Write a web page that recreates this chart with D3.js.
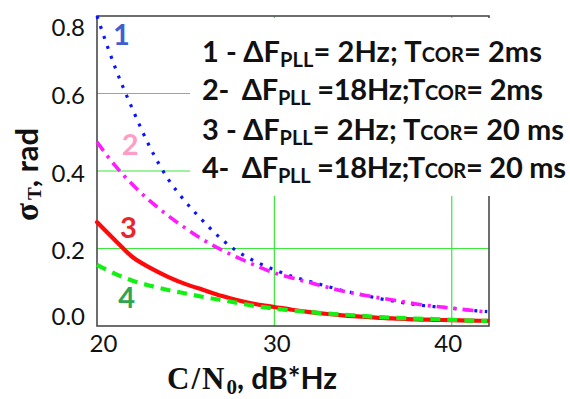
<!DOCTYPE html>
<html>
<head>
<meta charset="utf-8">
<script src="https://cdn.jsdelivr.net/npm/d3@7"></script>
<style>
  html, body { margin: 0; padding: 0; background: #fff; }
  svg { display: block; }
  text { white-space: pre; }
</style>
</head>
<body>
<svg id="chart" width="570" height="399"></svg>
<script>
// Carrier-to-noise density ratio, dB*Hz
const cn0 = [20, 21, 22, 23, 24, 25, 26, 27, 28, 29, 30, 31, 32, 33, 34, 35, 36, 37, 38, 39, 40, 41, 42];

// Tracking error sigma_T, rad, for the four loop configurations
const sigma1 = [0.800, 0.670, 0.560, 0.460, 0.380, 0.320, 0.270, 0.225, 0.190, 0.165, 0.145, 0.128, 0.115, 0.102, 0.090, 0.080, 0.070, 0.062, 0.055, 0.050, 0.046, 0.041, 0.037];
const sigma2 = [0.475, 0.415, 0.365, 0.322, 0.285, 0.252, 0.222, 0.197, 0.175, 0.155, 0.137, 0.124, 0.112, 0.100, 0.089, 0.080, 0.072, 0.065, 0.057, 0.051, 0.046, 0.041, 0.036];
const sigma3 = [0.268, 0.222, 0.178, 0.150, 0.127, 0.108, 0.093, 0.078, 0.066, 0.056, 0.049, 0.042, 0.036, 0.031, 0.027, 0.024, 0.021, 0.019, 0.017, 0.016, 0.015, 0.014, 0.013];
const sigma4 = [0.158, 0.135, 0.117, 0.104, 0.093, 0.084, 0.075, 0.067, 0.059, 0.051, 0.045, 0.040, 0.036, 0.032, 0.029, 0.026, 0.023, 0.021, 0.019, 0.018, 0.016, 0.014, 0.013];

const xTicks = [20, 30, 40];
const yTicks = [0.0, 0.2, 0.4, 0.6, 0.8];
const yTickLabels = ["0.0", "0.2", "0.4", "0.6", "0.8"];

// Legend entries: number, PLL bandwidth text, correlation time text
const legendNum = ["1 - ", "2-  ", "3 - ", "4-  "];
const legendDF = ["= 2Hz; T", " =18Hz;T", "= 2Hz; T", " =18Hz;T"];
const legendT = ["= 2ms", "= 2ms", "= 20 ms", "= 20 ms"];

const svg = d3.select("#chart");
const L = 97, R = 489, T = 16, B = 326;

const x = d3.scaleLinear().domain([20, 42.1]).range([L, R]);
const y = d3.scaleLinear().domain([0, 0.8]).range([B, T]);

const sansBold = "Lato, 'Open Sans', sans-serif";
const serif = "'Liberation Serif', 'DejaVu Serif', serif";

// grid
const grid = svg.append("g").attr("stroke", "#3be83b").attr("stroke-width", 1.2);
grid.selectAll("line.h").data([0.2, 0.4, 0.6]).join("line")
  .attr("x1", L).attr("x2", R).attr("y1", d => y(d)).attr("y2", d => y(d));
grid.selectAll("line.v").data([30, 40]).join("line")
  .attr("y1", T).attr("y2", B).attr("x1", d => x(d)).attr("x2", d => x(d));

// frame
svg.append("rect").attr("x", L).attr("y", T).attr("width", R - L).attr("height", B - T)
  .attr("fill", "none").attr("stroke", "#4a4a4a").attr("stroke-width", 1.6);

// curves
const series = [
  { v: sigma1, color: "#0a14ff", width: 3.2, dash: "3 7.5", cap: "butt" },
  { v: sigma3, color: "#ff0a0a", width: 4.2, dash: null, cap: "round" },
  { v: sigma2, color: "#ff1aff", width: 3.6, dash: "11 6 3 6", cap: "butt" },
  { v: sigma4, color: "#14f014", width: 4.2, dash: "10 7", cap: "butt" }
];
const line = d3.line().curve(d3.curveMonotoneX);
svg.append("g").selectAll("path").data(series).join("path")
  .attr("d", s => line(cn0.map((c, i) => [x(c), y(s.v[i])])))
  .attr("fill", "none")
  .attr("stroke", s => s.color)
  .attr("stroke-width", s => s.width)
  .attr("stroke-linecap", s => s.cap)
  .attr("stroke-dasharray", s => s.dash);

// white panel behind legend
svg.append("rect").attr("x", 190).attr("y", 18).attr("width", 380).attr("height", 178).attr("fill", "#fff");

// axes
const yAxis = d3.axisLeft(y).tickValues(yTicks).tickSize(0).tickPadding(12)
  .tickFormat((d, i) => yTickLabels[i]);
const gy = svg.append("g").attr("transform", `translate(${L},0)`).call(yAxis);
gy.select(".domain").remove();
gy.selectAll("text")
  .attr("font-family", "Lato, sans-serif").attr("font-size", 24).attr("fill", "#111")
  .attr("dy", (d, i) => i === 0 ? "-0.05em" : (i === yTicks.length - 1 ? "0.8em" : "0.42em"));

const xAxis = d3.axisBottom(x).tickValues(xTicks).tickSize(0).tickPadding(12);
const gx = svg.append("g").attr("transform", `translate(0,${B})`).call(xAxis);
gx.select(".domain").remove();
gx.selectAll("text")
  .attr("font-family", "Lato, sans-serif").attr("font-size", 24).attr("fill", "#111")
  .attr("dx", (d, i) => i === 0 ? 6 : (i === xTicks.length - 1 ? -4 : 2))
  .attr("dy", "0.6em");

// axis titles
const xt = svg.append("text").attr("x", 167).attr("y", 389).attr("fill", "#111");
xt.append("tspan").attr("font-family", serif).attr("font-weight", "bold").attr("font-size", 31)
  .attr("letter-spacing", 2).text("C/N");
xt.append("tspan").attr("font-family", serif).attr("font-weight", "bold").attr("font-size", 21).attr("dy", 5).text("0");
xt.append("tspan").attr("font-family", sansBold).attr("font-weight", "bold").attr("font-size", 30).attr("dy", -5).text(", dB*Hz");

const yt = svg.append("text").attr("transform", "translate(38,221) rotate(-90)").attr("fill", "#111");
yt.append("tspan").attr("font-family", serif).attr("font-weight", "bold").attr("font-size", 33).text("σ");
yt.append("tspan").attr("font-family", serif).attr("font-weight", "bold").attr("font-size", 19).attr("dx", 3).attr("dy", 3).text("T");
yt.append("tspan").attr("font-family", sansBold).attr("font-weight", "bold").attr("font-size", 31).attr("dy", -3).text(", rad");

// curve numbers
const numLabels = [
  { t: "1", c: "#3f5fd0", x: 20.9, y: 0.725 },
  { t: "2", c: "#ff9dc8", x: 21.4, y: 0.442 },
  { t: "3", c: "#e8262a", x: 21.3, y: 0.228 },
  { t: "4", c: "#2ea64e", x: 21.2, y: 0.046 }
];
svg.append("g").selectAll("text").data(numLabels).join("text")
  .attr("x", d => x(d.x)).attr("y", d => y(d.y))
  .attr("font-family", sansBold).attr("font-weight", "bold").attr("font-size", 29)
  .attr("fill", d => d.c).text(d => d.t);

// legend
const lg = svg.append("g").attr("font-family", sansBold).attr("font-weight", "bold").attr("fill", "#111");
const baselines = [62, 100, 140, 178];
const lineWidths = [340, 341, 362, 364];
legendNum.forEach((n, i) => {
  const t = lg.append("text").attr("x", 202).attr("y", baselines[i]).attr("font-size", 29)
    .attr("textLength", lineWidths[i]).attr("lengthAdjust", "spacing");
  t.append("tspan").text(n + "ΔF");
  t.append("tspan").attr("font-size", 20).attr("dy", 5).text("PLL");
  t.append("tspan").attr("dy", -5).text(legendDF[i]);
  t.append("tspan").attr("font-size", 20).text("COR");
  t.append("tspan").text(legendT[i]);
});
</script>
</body>
</html>
